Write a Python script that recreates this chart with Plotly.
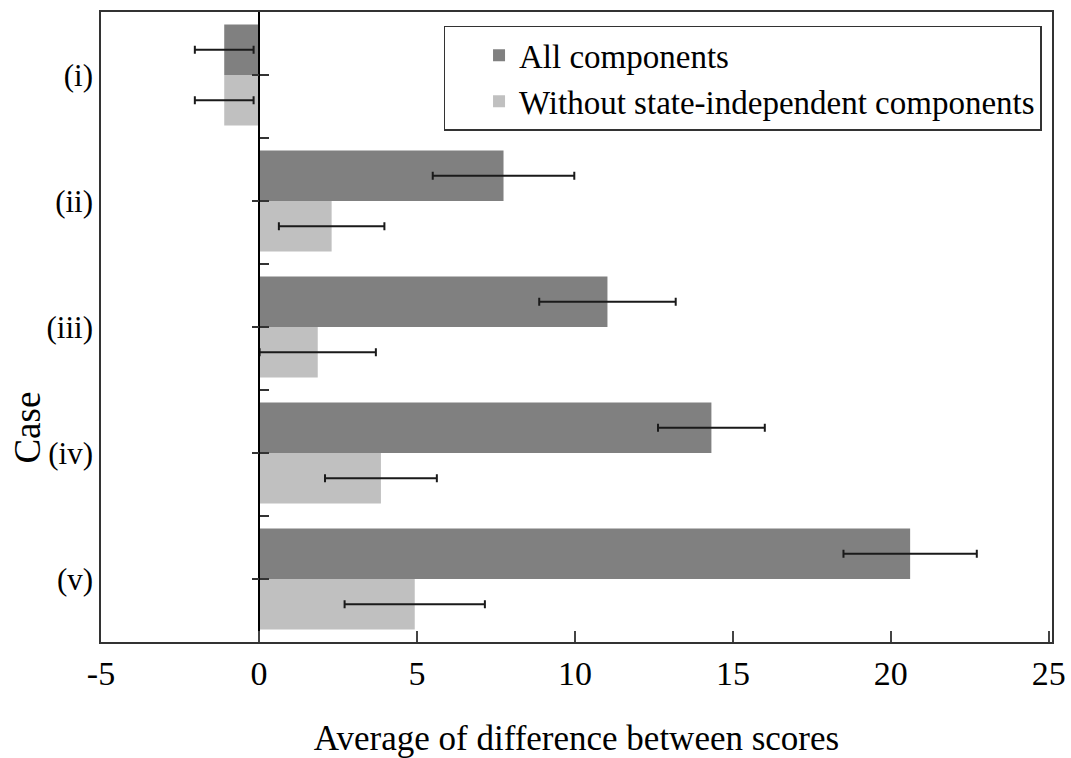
import plotly.graph_objects as go

# ---- data ----
categories = ["(i)", "(ii)", "(iii)", "(iv)", "(v)"]
all_components = [-1.10, 7.74, 11.03, 14.32, 20.61]
all_err = [0.93, 2.24, 2.16, 1.69, 2.11]
without_state = [-1.10, 2.30, 1.86, 3.86, 4.93]
without_err = [0.93, 1.67, 1.84, 1.77, 2.22]
x_ticks = [-5, 0, 5, 10, 15, 20, 25]

series_names = ["All components", "Without state-independent components"]
colors = ["#808080", "#c0c0c0"]

pos = list(range(len(categories)))
x_range = [-5, 25.1]
y_range = [len(categories) - 0.5, -0.5]
zero_frac = (0 - x_range[0]) / (x_range[1] - x_range[0])
boundaries = [p - 0.5 for p in pos] + [pos[-1] + 0.5]

FONT = "Liberation Serif, Times New Roman, serif"

fig = go.Figure()
for name, vals, errs, col in [
    (series_names[0], all_components, all_err, colors[0]),
    (series_names[1], without_state, without_err, colors[1]),
]:
    fig.add_trace(go.Bar(
        name=name, x=vals, y=pos, orientation="h",
        marker=dict(color=col, line=dict(width=0)),
        error_x=dict(type="data", array=errs, visible=True,
                     color="#1a1a1a", thickness=2, width=4),
    ))

fig.update_layout(
    width=1071, height=758,
    margin=dict(l=101, r=19, t=12, b=116, autoexpand=False),
    paper_bgcolor="white", plot_bgcolor="white",
    barmode="group", bargap=0.2, bargroupgap=0,
    font=dict(family=FONT, color="black", size=32),
    showlegend=True,
    legend=dict(
        x=0.989, y=0.978, xanchor="right", yanchor="top",
        bgcolor="white", bordercolor="#333", borderwidth=1.5,
        font=dict(family=FONT, size=33, color="black"),
        traceorder="normal", tracegroupgap=0, indentation=34,
    ),
    xaxis=dict(
        range=x_range, tickvals=x_ticks, ticktext=[str(t) for t in x_ticks],
        ticks="inside", ticklen=11, tickwidth=1.5, tickcolor="#444",
        showline=True, mirror=True, linecolor="#333", linewidth=1.5,
        showgrid=False, zeroline=False, automargin=False,
        tickfont=dict(family=FONT, size=34, color="black"),
        title=dict(text="Average of difference between scores",
                   font=dict(family=FONT, size=35, color="black"), standoff=36),
    ),
    yaxis=dict(
        range=y_range, tickvals=pos, ticktext=categories,
        ticks="", showline=True, mirror=True, linecolor="#333", linewidth=1.5,
        showgrid=False, zeroline=False, automargin=False,
        tickfont=dict(family=FONT, size=31, color="black"),
    ),
    yaxis2=dict(
        overlaying="y", anchor="free", position=zero_frac, side="left",
        range=y_range, tickvals=boundaries + pos,
        ticks="inside", ticklen=9, tickwidth=1.5, tickcolor="#333",
        showticklabels=False, showline=True, linecolor="black", linewidth=1.5,
        showgrid=False, zeroline=False, automargin=False,
    ),
    yaxis3=dict(
        overlaying="y", anchor="free", position=zero_frac, side="left",
        range=y_range, tickvals=pos,
        ticks="outside", ticklen=7, tickwidth=1.5, tickcolor="#333",
        showticklabels=False, showline=False,
        showgrid=False, zeroline=False, automargin=False,
    ),
)

# invisible helpers so the overlay axes are drawn
fig.add_trace(go.Scatter(x=[0], y=[pos[0]], yaxis="y2", mode="markers",
                         marker=dict(opacity=0), showlegend=False, hoverinfo="skip"))
fig.add_trace(go.Scatter(x=[0], y=[pos[0]], yaxis="y3", mode="markers",
                         marker=dict(opacity=0), showlegend=False, hoverinfo="skip"))

fig.add_annotation(
    text="Case", textangle=-90, xref="paper", yref="paper",
    x=-0.077, y=0.34, xanchor="center", yanchor="middle", showarrow=False,
    font=dict(family=FONT, size=37, color="black"),
)

fig.write_html("out.html", config={"displayModeBar": False},
               post_script="document.body.style.margin='0';document.body.style.overflow='hidden';")
